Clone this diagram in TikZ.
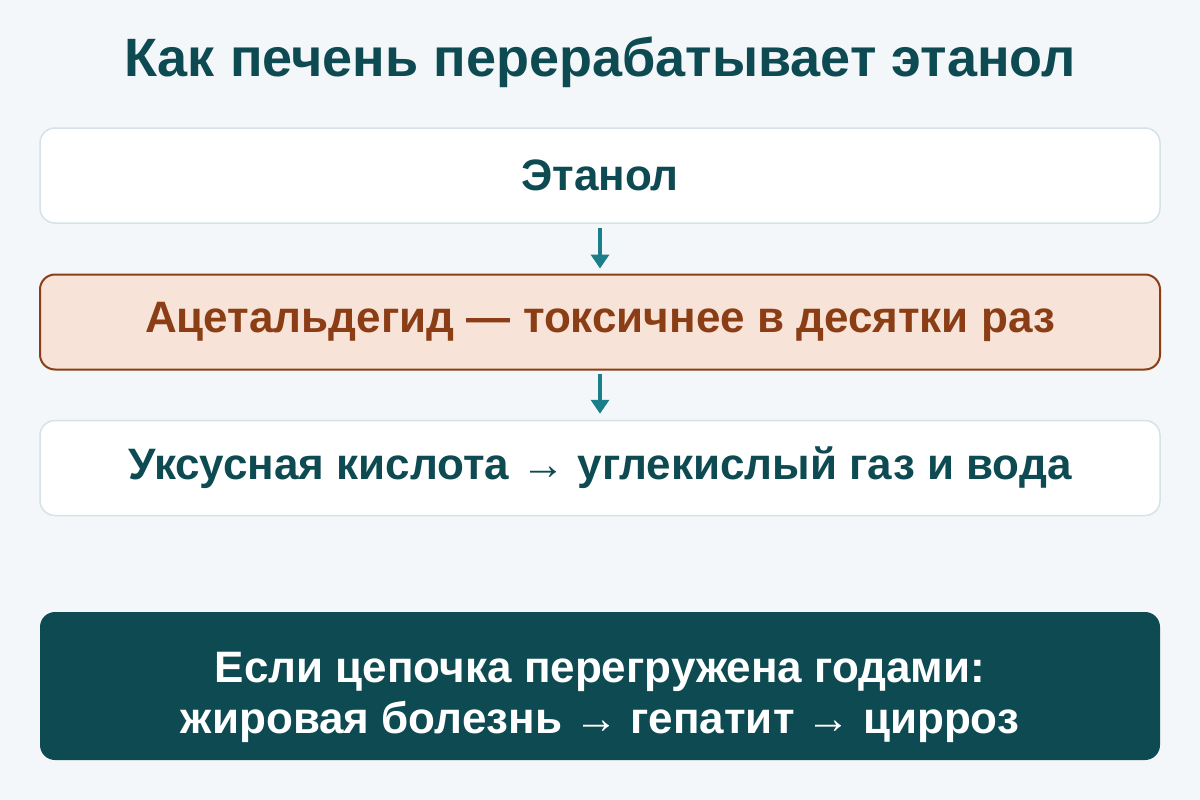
\documentclass[tikz,border=0pt]{standalone}
\usepackage{fontspec}
\setmainfont{Liberation Sans}
\usetikzlibrary{arrows.meta}
\definecolor{bg}{HTML}{F3F7F9}
\definecolor{teal}{HTML}{0E4A52}
\definecolor{arr}{HTML}{1A7F8A}
\definecolor{brown}{HTML}{8B3E16}
\definecolor{peach}{HTML}{F7E3D7}
\definecolor{lborder}{HTML}{D5E3E6}
\begin{document}
\begin{tikzpicture}[x=1pt,y=-1pt,
  box/.style={rounded corners=15pt, minimum width=1120pt, minimum height=95pt, inner sep=0pt},
  whitebox/.style={box, fill=white, draw=lborder, line width=1.5pt},
  accbox/.style={box, fill=peach, draw=brown, line width=2pt},
  boxtext/.style={font=\fontsize{44}{50}\selectfont\bfseries},
  flow/.style={draw=arr, line width=4pt, -{Triangle[length=14pt,width=18pt]}}
]
\fill[bg] (0,0) rectangle (1200,800);
\useasboundingbox (0,0) rectangle (1200,800);
\node[text=teal, font=\fontsize{54}{60}\selectfont\bfseries] (title) at (600,62) {Как печень перерабатывает этанол};
\node[whitebox, boxtext, text=teal] (b1) at (600,175.5) {Этанол};
\node[accbox, boxtext, text=brown] (b2) at (600,322) {Ацетальдегид — токсичнее в десятки раз};
\node[whitebox, boxtext, text=teal] (b3) at (600,468) {Уксусная кислота → углекислый газ и вода};
\node[box, fill=teal, minimum height=148pt] (b4) at (600,686) {};
\node[text=white, align=center, font=\fontsize{44}{51}\selectfont\bfseries] (b4t) at (600,697)
  {Если цепочка перегружена годами:\\жировая болезнь → гепатит → цирроз};
\draw[flow] ([yshift=-4pt]b1.south) -- ([yshift=5pt]b2.north);
\draw[flow] ([yshift=-3pt]b2.south) -- ([yshift=6pt]b3.north);
\end{tikzpicture}
\end{document}
